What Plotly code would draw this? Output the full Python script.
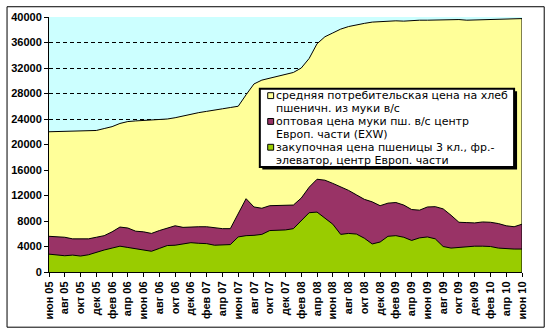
import plotly.graph_objects as go

months = list(range(61))
tick_positions = list(range(0, 61, 2))
tick_labels = ["июн 05", "авг 05", "окт 05", "дек 05", "фев 06", "апр 06",
               "июн 06", "авг 06", "окт 06", "дек 06", "фев 07", "апр 07",
               "июн 07", "авг 07", "окт 07", "дек 07", "фев 08", "апр 08",
               "июн 08", "авг 08", "окт 08", "дек 08", "фев 09", "апр 09",
               "июн 09", "авг 09", "окт 09", "дек 09", "фев 10", "апр 10",
               "июн 10"]
y_ticks = [0, 4000, 8000, 12000, 16000, 20000, 24000, 28000, 32000, 36000, 40000]

bread = [22000, 22050, 22100, 22150, 22150, 22150, 22200, 22500, 22800, 23300,
         23600, 23700, 23750, 23800, 23900, 24000, 24200, 24500, 24800, 25000,
         25200, 25450, 25600, 25800, 26000, 27800, 29500, 30100, 30400, 30700,
         30900, 31300, 32000, 33500, 35800, 36900, 37500, 38100, 38500, 38800,
         39000, 39200, 39300, 39400, 39400, 39350, 39450, 39500, 39500, 39550,
         39600, 39550, 39600, 39500, 39550, 39600, 39600, 39650, 39650, 39700,
         39750]
flour = [5600, 5500, 5450, 5200, 5150, 5200, 5450, 5700, 6300, 7050,
         6900, 6400, 6300, 6050, 6500, 6850, 7250, 7000, 7100, 7100,
         7100, 6950, 6800, 6800, 9200, 11500, 10200, 10000, 10400, 10450,
         10450, 10500, 11600, 13300, 14550, 14400, 13900, 13400, 12800, 12100,
         11400, 11000, 10400, 10800, 10900, 10500, 9800, 9700, 10200, 10250,
         9900, 8900, 7800, 7750, 7700, 7850, 7800, 7600, 7250, 7100,
         7500]
wheat = [2800, 2650, 2550, 2650, 2500, 2700, 3100, 3450, 3750, 4050,
         3850, 3650, 3450, 3250, 3700, 4150, 4200, 4350, 4600, 4500,
         4450, 4200, 4200, 4300, 5500, 5700, 5750, 5900, 6500, 6550,
         6600, 6800, 8000, 9300, 9400, 8500, 7500, 5900, 6050, 5950,
         5300, 4400, 4700, 5600, 5700, 5450, 4950, 5350, 5500, 5200,
         4000, 3750, 3850, 4050, 4050, 4050, 4000, 3750, 3650, 3600,
         3600]

series_names = ["средняя потребительская цена на хлеб пшеничн. из муки в/с",
                "оптовая цена муки пш. в/с центр Европ. части (EXW)",
                "закупочная цена пшеницы 3 кл., фр.-элеватор, центр Европ. части"]
legend_lines = [["средняя потребительская цена на хлеб", "пшеничн. из муки в/с"],
                ["оптовая цена муки пш. в/с центр", "Европ. части (EXW)"],
                ["закупочная цена пшеницы 3 кл., фр.-", "элеватор, центр Европ. части"]]
colors = ["#FFFF99", "#993366", "#99CC00"]

W, H = 546, 330
L, R, T, B = 43, 24, 11, 58
PW, PH = W - L - R, H - T - B


def px(x):
    return (x - L) / PW


def py(y):
    return (H - B - y) / PH


fig = go.Figure()
for name, vals, col in zip(series_names, [bread, flour, wheat], colors):
    fig.add_trace(go.Scatter(x=months, y=vals, name=name, mode="lines",
                             fill="tozeroy", fillcolor=col,
                             line=dict(color="black", width=1),
                             hoverinfo="skip", showlegend=False))

shapes = []
shapes.append(dict(type="line", xref="x", yref="y", x0=months[-1], x1=months[-1],
                   y0=0, y1=bread[-1], line=dict(color="black", width=1)))
shapes.append(dict(type="rect", xref="paper", yref="paper",
                   x0=px(0.5), x1=px(544.5), y0=py(328.5), y1=py(0.5),
                   line=dict(color="black", width=1)))
shapes.append(dict(type="rect", xref="paper", yref="paper",
                   x0=px(259), x1=px(517), y0=py(167), y1=py(87),
                   fillcolor="black", line=dict(width=0)))
shapes.append(dict(type="rect", xref="paper", yref="paper",
                   x0=px(256.5), x1=px(514), y0=py(164.5), y1=py(84.5),
                   fillcolor="white", line=dict(color="black", width=2)))

FS = 11.0
first_line = 91.5
step = 13.2
annotations = []
for k, (lines, col) in enumerate(zip(legend_lines, colors)):
    ys = first_line + step * 2 * k
    shapes.append(dict(type="rect", xref="paper", yref="paper",
                       x0=px(264.5), x1=px(270.5), y0=py(ys + 3), y1=py(ys - 3),
                       fillcolor=col, line=dict(color="black", width=1)))
    for j, txt in enumerate(lines):
        annotations.append(dict(text=txt, xref="paper", yref="paper",
                                x=px(271.5), y=py(ys + step * j), borderpad=0,
                                xanchor="left", yanchor="middle", showarrow=False,
                                font=dict(family="DejaVu Sans", size=FS, color="black")))

fig.update_layout(
    width=W, height=H,
    margin=dict(l=L, r=R, t=T, b=B),
    paper_bgcolor="white", plot_bgcolor="#CCFFFF",
    shapes=shapes, annotations=annotations,
    showlegend=False,
    xaxis=dict(range=[0, 60], tickvals=tick_positions, ticktext=tick_labels,
               tickangle=-90, ticks="outside", ticklen=4, tickcolor="black",
               showline=True, linecolor="black", linewidth=1, showgrid=False,
               zeroline=False,
               tickfont=dict(family="Liberation Sans", size=11, color="black",
                             weight="bold")),
    yaxis=dict(range=[0, 40000], tickvals=y_ticks, ticktext=[str(v) for v in y_ticks],
               ticks="outside", ticklen=4, tickcolor="black",
               showline=True, linecolor="black", linewidth=1,
               showgrid=True, gridcolor="black", gridwidth=1, griddash="4px,3px",
               zeroline=False,
               tickfont=dict(family="Liberation Sans", size=11, color="black",
                             weight="bold")),
)

fig.write_html("out.html", config={"displayModeBar": False})
